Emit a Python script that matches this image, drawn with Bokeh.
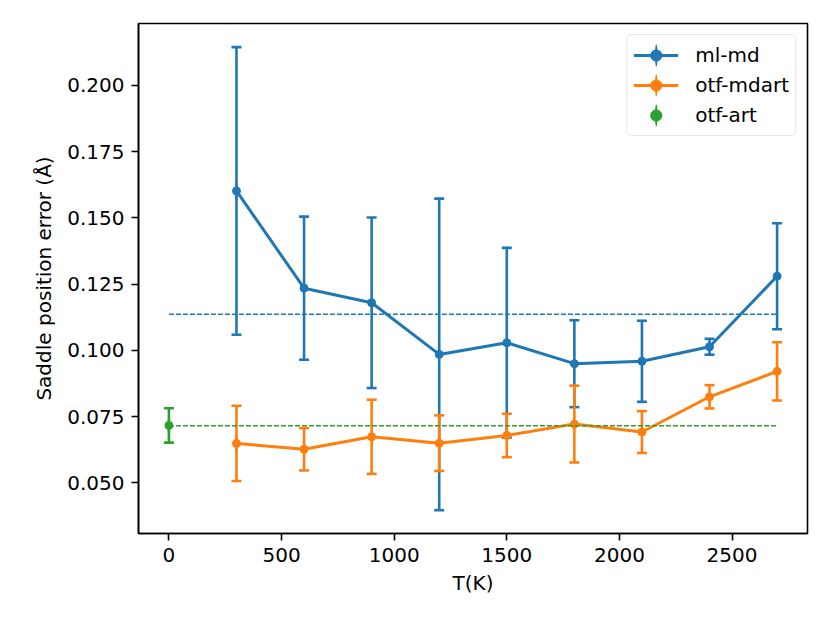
from bokeh.plotting import figure
from bokeh.models import (Range1d, FixedTicker, PrintfTickFormatter, Legend,
                          LegendItem, ColumnDataSource)
from bokeh.embed import file_html
from bokeh.resources import INLINE

# ---- data ----
T = [300, 600, 900, 1200, 1500, 1800, 2100, 2400, 2700]
ml_md = [0.1602, 0.1235, 0.1180, 0.0985, 0.1029, 0.0950, 0.0959, 0.1014, 0.1280]
ml_md_err = [0.0543, 0.0270, 0.0322, 0.0588, 0.0358, 0.0164, 0.0153, 0.0030, 0.0200]
otf_mdart = [0.0649, 0.0627, 0.0674, 0.0650, 0.0679, 0.0722, 0.0692, 0.0825, 0.0921]
otf_mdart_err = [0.0142, 0.0080, 0.0140, 0.0105, 0.0082, 0.0145, 0.0079, 0.0044, 0.0110]
T_art = [0]
otf_art = [0.0717]
otf_art_err = [0.0065]
ref_ml_md = 0.1137      # dashed reference line (blue)
ref_art = 0.0716        # dashed reference line (green)
ref_span = [0, 2700]

x_ticks = [0, 500, 1000, 1500, 2000, 2500]
y_ticks = [0.050, 0.075, 0.100, 0.125, 0.150, 0.175, 0.200]

BLUE = "#1f77b4"
ORANGE = "#ff7f0e"
GREEN = "#2ca02c"
FONT = "DejaVu Sans"

p = figure(width=814, height=607, output_backend="svg", toolbar_location=None,
           x_range=Range1d(-135, 2835), y_range=Range1d(0.0309, 0.2234),
           min_border_left=138, min_border_right=7, min_border_top=23,
           min_border_bottom=74)
p.background_fill_color = "white"
p.border_fill_color = "white"
p.grid.visible = False
p.outline_line_color = "black"
p.outline_line_width = 1.6

for ax in (p.xaxis[0], p.yaxis[0]):
    ax.axis_line_color = "black"
    ax.axis_line_width = 1.6
    ax.major_tick_line_width = 1.6
    ax.major_tick_out = 7
    ax.major_tick_in = 0
    ax.minor_tick_line_color = None
    ax.major_label_text_font = FONT
    ax.major_label_text_font_size = "20px"
    ax.major_label_text_color = "black"
    ax.axis_label_text_font = FONT
    ax.axis_label_text_font_size = "20px"
    ax.axis_label_text_font_style = "normal"
    ax.axis_label_text_color = "black"
    ax.major_label_standoff = 7

p.xaxis.ticker = FixedTicker(ticks=x_ticks)
p.xaxis.formatter = PrintfTickFormatter(format="%d")
p.yaxis.ticker = FixedTicker(ticks=y_ticks)
p.yaxis.formatter = PrintfTickFormatter(format="%.3f")
p.xaxis.axis_label = "T(K)"
p.yaxis.axis_label = "Saddle position error (Å)"
p.xaxis.axis_label_standoff = 6
p.yaxis.axis_label_standoff = 8


def errorbar(xs, ys, errs, color, with_line):
    lo = [y - e for y, e in zip(ys, errs)]
    hi = [y + e for y, e in zip(ys, errs)]
    src = ColumnDataSource(dict(x=xs, y=ys, lo=lo, hi=hi))
    p.segment(x0="x", y0="lo", x1="x", y1="hi", source=src,
              line_color=color, line_width=2.6)
    p.scatter(x="x", y="lo", source=src, marker="dash", size=10,
              line_color=color, line_width=2.6)
    p.scatter(x="x", y="hi", source=src, marker="dash", size=10,
              line_color=color, line_width=2.6)
    rs = []
    # thin vertical ellipse: gives the vertical error-bar stroke in the legend
    # (on the plot it sits hidden inside the first error bar)
    rs.append(p.ellipse(x=xs[:1], y=ys[:1], width=2.6, height=22,
                        width_units="screen", height_units="screen",
                        fill_color=color, line_color=None))
    if with_line:
        rs.append(p.line(x="x", y="y", source=src, line_color=color, line_width=3))
    rs.append(p.scatter(x="x", y="y", source=src, marker="circle", size=8,
                        fill_color=color, line_color=color))
    return rs


r_ml = errorbar(T, ml_md, ml_md_err, BLUE, True)
r_mdart = errorbar(T, otf_mdart, otf_mdart_err, ORANGE, True)
r_art = errorbar(T_art, otf_art, otf_art_err, GREEN, False)

p.line(x=ref_span, y=[ref_ml_md, ref_ml_md], line_color=BLUE, line_width=1.5,
       line_dash="5 2")
p.line(x=ref_span, y=[ref_art, ref_art], line_color=GREEN, line_width=1.5,
       line_dash="5 2")

legend = Legend(items=[LegendItem(label="ml-md", renderers=r_ml),
                       LegendItem(label="otf-mdart", renderers=r_mdart),
                       LegendItem(label="otf-art", renderers=r_art)],
                location="top_right")
legend.margin = 11
legend.padding = 6
legend.spacing = 2
legend.glyph_width = 45
legend.glyph_height = 28
legend.label_height = 24
legend.label_standoff = 17
legend.label_text_font = FONT
legend.label_text_font_size = "20px"
legend.label_text_color = "black"
legend.border_line_color = "#cccccc"
legend.border_line_width = 1.5
legend.border_radius = 5
legend.background_fill_color = "white"
legend.background_fill_alpha = 0.8
p.add_layout(legend, "center")

open("out.html", "w").write(file_html(p, INLINE))
